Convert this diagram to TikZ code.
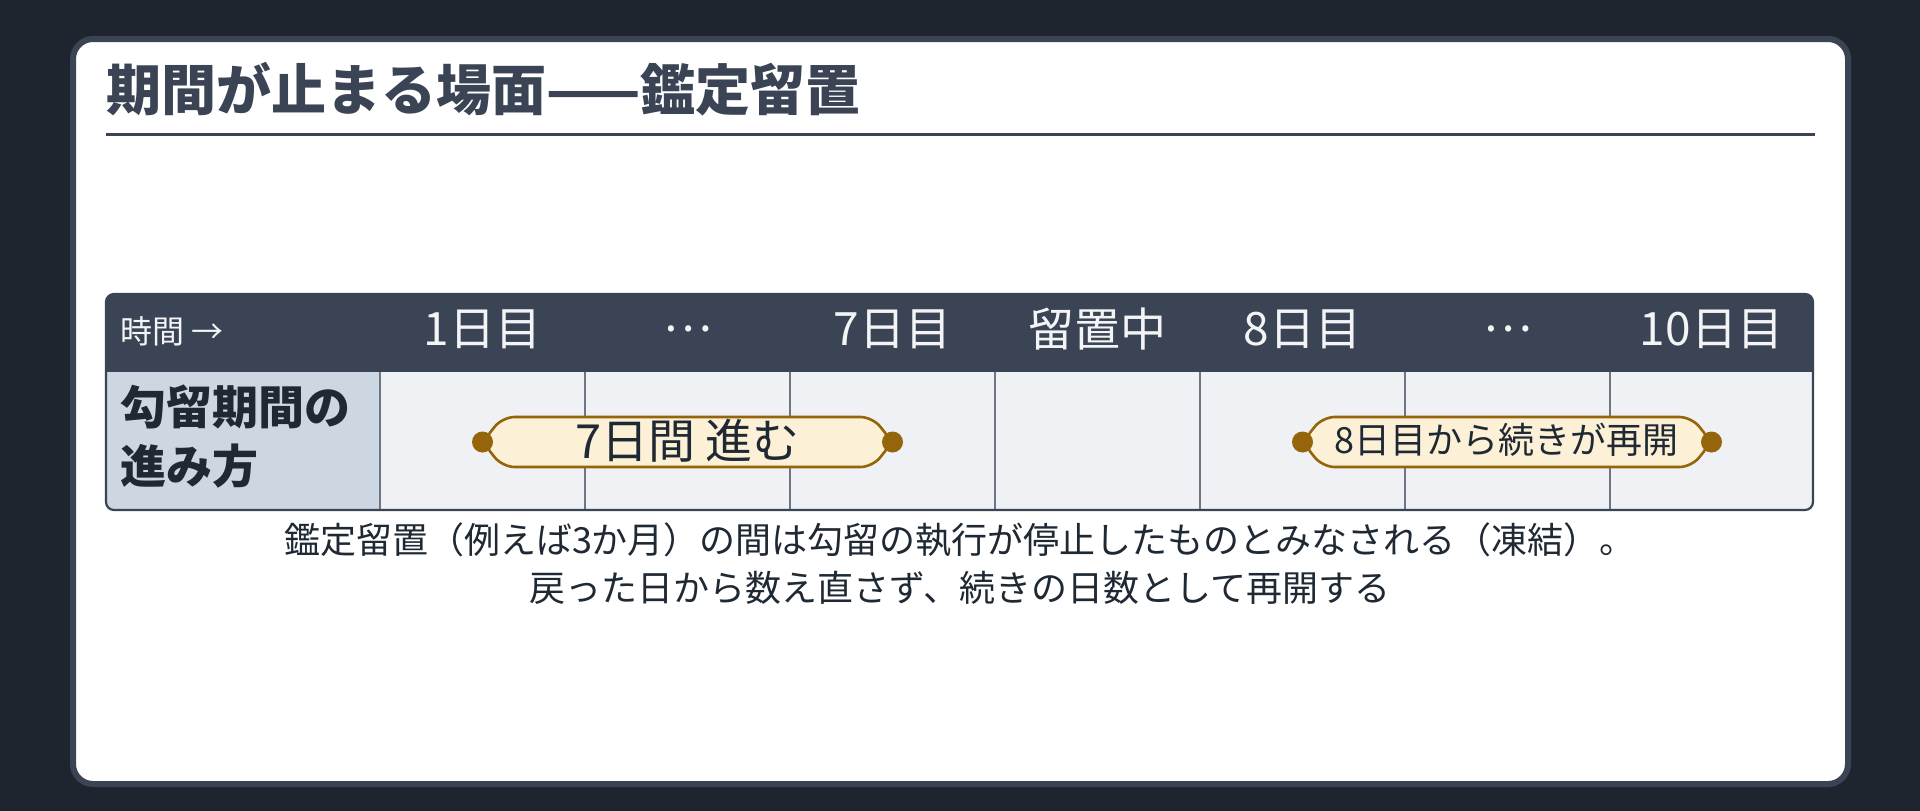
\documentclass[tikz,border=0pt]{standalone}
\usepackage{fontspec}
\setmainfont{Noto Sans CJK JP}
\definecolor{bg}{HTML}{1E252F}
\definecolor{slate}{HTML}{3B4454}
\definecolor{bodyfill}{HTML}{EFF1F5}
\definecolor{labelfill}{HTML}{CDD7E2}
\definecolor{colline}{HTML}{6E7685}
\definecolor{pillfill}{HTML}{FCF0D6}
\definecolor{pillline}{HTML}{94650A}
\definecolor{darktext}{HTML}{1F2933}
\definecolor{headtext}{HTML}{F3F4F6}
\tikzset{
  headlbl/.style={inner sep=0pt, text=headtext, font=\fontsize{46}{50}\selectfont},
  pillshape/.style={draw=pillline, fill=pillfill, line width=2.6pt, rounded corners=12pt},
  pilldot/.style={circle, fill=pillline, inner sep=0pt, minimum size=21pt},
  pilltext/.style={inner sep=0pt, text=darktext},
  gridline/.style={draw=colline, line width=1.6pt}
}
\begin{document}
\begin{tikzpicture}[x=1pt,y=-1pt]
\useasboundingbox (0,0) rectangle (1920,811);
\fill[bg] (0,0) rectangle (1920,811);
% card
\draw[slate, line width=6pt, fill=white, rounded corners=20pt] (73,39) rectangle (1848,784);
% title
\node[anchor=west, inner sep=0pt, text=slate, font=\bfseries\fontsize{55}{60}\selectfont] (title) at (106,89.5) {期間が止まる場面——鑑定留置};
\draw[slate, line width=3pt] (106,134.5) -- (1815,134.5);
% table
\begin{scope}
\clip[rounded corners=8pt] (106,294) rectangle (1813,510);
\fill[bodyfill] (106,294) rectangle (1813,510);
\fill[labelfill] (106,372) rectangle (380,510);
\fill[slate] (106,294) rectangle (1813,372);
\end{scope}
\foreach \x in {380,585,790,995,1200,1405,1610} \draw[gridline] (\x,372) -- (\x,510);
\draw[slate, line width=2.2pt, rounded corners=8pt] (106,294) rectangle (1813,510);
% header labels
\node[anchor=west, inner sep=0pt, text=headtext, font=\fontsize{32}{36}\selectfont] (timelbl) at (120,331) {時間~→};
\node[headlbl] (h1) at (482.5,329) {1日目};
\node[headlbl] (h2) at (687.5,329) {…};
\node[headlbl] (h3) at (892.5,329) {7日目};
\node[headlbl] (h4) at (1097.5,329) {留置中};
\node[headlbl] (h5) at (1302.5,329) {8日目};
\node[headlbl] (h6) at (1507.5,329) {…};
\node[headlbl] (h7) at (1711.5,329) {10日目};
% row label
\node[anchor=west, align=left, inner sep=0pt, text=darktext, font=\bfseries\fontsize{46}{59}\selectfont] (rowlbl) at (120,437) {勾留期間の\\進み方};
% pill 1
\coordinate (a1) at (482.5,442);
\coordinate (b1) at (892.5,442);
\path[pillshape] (a1) -- ([xshift=20pt,yshift=-25pt]a1) -- ([xshift=-20pt,yshift=-25pt]b1) -- (b1) -- ([xshift=-20pt,yshift=25pt]b1) -- ([xshift=20pt,yshift=25pt]a1) -- cycle;
\node[pilldot] (d1a) at (a1) {};
\node[pilldot] (d1b) at (b1) {};
\node[pilltext, font=\fontsize{47}{50}\selectfont] (p1) at (687.5,441) {7日間 進む};
% pill 2
\coordinate (a2) at (1302.5,442);
\coordinate (b2) at (1711.5,442);
\path[pillshape] (a2) -- ([xshift=20pt,yshift=-25pt]a2) -- ([xshift=-20pt,yshift=-25pt]b2) -- (b2) -- ([xshift=-20pt,yshift=25pt]b2) -- ([xshift=20pt,yshift=25pt]a2) -- cycle;
\node[pilldot] (d2a) at (a2) {};
\node[pilldot] (d2b) at (b2) {};
\node[pilltext, font=\fontsize{36}{42}\selectfont] (p2) at (1506,440) {8日目から続きが再開};
% caption
\node[align=center, inner sep=0pt, text=darktext, font=\fontsize{36}{48}\selectfont] (cap) at (960,564) {鑑定留置（例えば3か月）の間は勾留の執行が停止したものとみなされる（凍結）。\\戻った日から数え直さず、続きの日数として再開する};
\end{tikzpicture}
\end{document}
